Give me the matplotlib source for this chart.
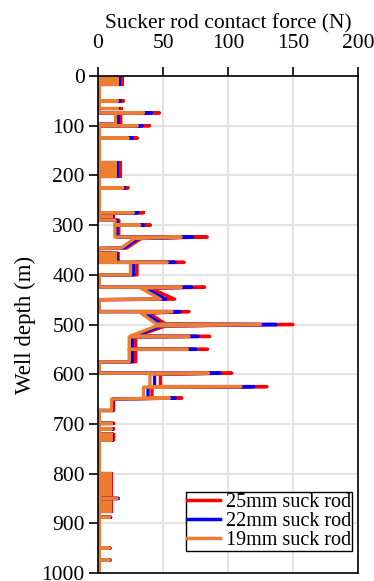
import matplotlib
matplotlib.use('Agg')
import matplotlib.pyplot as plt

plt.rcParams['font.family'] = ['Liberation Serif', 'DejaVu Serif']

# vertices of the contact force profile along the well (depth in m)
depth = [0, 50, 50, 50, 74, 74, 74, 97, 97, 100, 100, 100, 125, 125, 125,
         225, 225, 225, 275, 275, 275, 290, 290, 300, 300, 300, 324, 324,
         327, 346, 347, 357, 357, 357, 363, 363, 363, 369, 369, 369,
         375, 375, 375, 400, 400, 425, 425, 427, 449, 450,
         474, 474, 477, 499, 500, 503, 523, 524, 525, 550, 550, 550, 575, 575,
         598, 598, 600, 625, 625, 626, 648, 648, 650, 673, 673,
         699, 699, 699, 710, 710, 710, 721, 721, 721, 726, 726, 726, 732, 732, 732,
         850, 850, 850, 888, 888, 888, 950, 950, 950, 974, 974, 974, 1000]

f25 = [1, 1, 19.5, 1, 1, 47, 17.5, 17.5, 1, 1, 39.5, 1, 1, 30, 1,
       1, 23, 1, 1, 35, 1, 1, 16, 16, 40, 16, 16, 84,
       33, 22, 1, 1, 15.5, 1, 1, 15.5, 1, 1, 15.5, 1,
       1, 66, 30, 30, 1, 1, 82, 40, 59, 1,
       1, 70, 39, 52, 150, 52, 29.5, 86, 29, 29, 84, 29, 29, 1,
       1, 103, 48, 48, 130, 41.5, 41.5, 64.5, 12, 12, 1,
       1, 12, 1, 1, 12, 1, 1, 12, 1, 1, 12, 1, 1, 12, 1,
       1, 15.6, 1, 1, 9.7, 1, 1, 9.2, 1, 1, 9.2, 1, 1]

f22 = [1, 1, 17, 1, 1, 41, 15.5, 15.5, 1, 1, 34, 1, 1, 26.5, 1,
       1, 20.5, 1, 1, 30.5, 1, 1, 14.5, 14.5, 35, 14.5, 14.5, 73,
       30.5, 20, 1, 1, 14.5, 1, 1, 14.5, 1, 1, 14.5, 1,
       1, 59, 27.5, 27.5, 1, 1, 72, 36.5, 52, 1,
       1, 63, 36, 48.5, 137, 48.5, 27, 77, 26.5, 26.5, 75, 26.5, 26.5, 1,
       1, 94, 43.5, 43.5, 120, 38.5, 38.5, 59.5, 11.2, 11.2, 1,
       1, 11, 1, 1, 11, 1, 1, 11, 1, 1, 11, 1, 1, 11, 1,
       1, 15, 1, 1, 9.2, 1, 1, 8.8, 1, 1, 8.8, 1, 1]

f19 = [1, 1, 15, 1, 1, 35, 13.5, 13.5, 1, 1, 30, 1, 1, 23, 1,
       1, 19, 1, 1, 27, 1, 1, 13, 13, 32, 13, 13, 64,
       28, 18, 1, 1, 13.5, 1, 1, 13.5, 1, 1, 13.5, 1,
       1, 53, 25, 25, 1, 1, 64, 33, 48, 1,
       1, 57, 33, 45, 125, 45, 25, 70, 24, 24, 68.5, 24, 24, 1,
       1, 85, 40, 40, 110, 35, 35, 55, 10.5, 10.5, 1,
       1, 10.3, 1, 1, 10.3, 1, 1, 10.3, 1, 1, 10.3, 1, 1, 10.3, 1,
       1, 14.4, 1, 1, 8.7, 1, 1, 8.5, 1, 1, 8.5, 1, 1]

# densely loaded intervals (drawn as solid bands)
band_top = [0, 62, 172, 273, 352, 796]
band_bot = [18, 67, 203, 290, 368, 877]
band25 = [19.5, 18.5, 17.5, 12, 10, 10.8]
band22 = [17, 16.5, 15.5, 11.5, 9.5, 10.3]
band19 = [15, 15, 14, 11, 9, 9.7]
base = 1

series = [('25mm suck rod', f25, band25, '#ff0000'),
          ('22mm suck rod', f22, band22, '#0000ff'),
          ('19mm suck rod', f19, band19, '#ed7d31')]

fig = plt.figure(figsize=(3.74, 5.81), dpi=100)
ax = fig.add_axes([98 / 374, 1 - 573 / 581, 260 / 374, 497 / 581])

for label, f, band, col in series:
    for t, b, v in zip(band_top, band_bot, band):
        ax.fill_betweenx([t, b], base, v, color=col, lw=0.8, edgecolor=col)
    ax.plot(f, depth, color=col, lw=2.4, label=label)

ax.set_xlim(0, 200)
ax.set_ylim(1000, 0)
ax.xaxis.tick_top()
ax.xaxis.set_label_position('top')
ax.set_xticks([0, 50, 100, 150, 200])
ax.set_yticks(range(0, 1001, 100))
ax.tick_params(direction='out', length=6.5, width=1.2, labelsize=15.5,
               top=True, bottom=False, left=True, right=False)
ax.tick_params(axis='x', pad=10)
ax.tick_params(axis='y', pad=3)
ax.grid(color='#e2e2e2', lw=1.3)
ax.set_axisbelow(True)
for s in ax.spines.values():
    s.set_linewidth(1.2)

ax.set_xlabel('Sucker rod contact force (N)', fontsize=15.5, labelpad=4)
ax.set_ylabel('Well depth (m)', fontsize=16.5, labelpad=4)

leg = ax.legend(loc='lower right', bbox_to_anchor=(0.977, 0.044), fontsize=14.5,
                frameon=True, fancybox=False, edgecolor='black', framealpha=1,
                borderaxespad=0, borderpad=0.05, labelspacing=0.0,
                handlelength=1.6, handletextpad=0.3)
leg.get_frame().set_linewidth(1.0)
for h in leg.get_lines():
    h.set_linewidth(2.5)

fig.savefig('out.png', dpi=100)
